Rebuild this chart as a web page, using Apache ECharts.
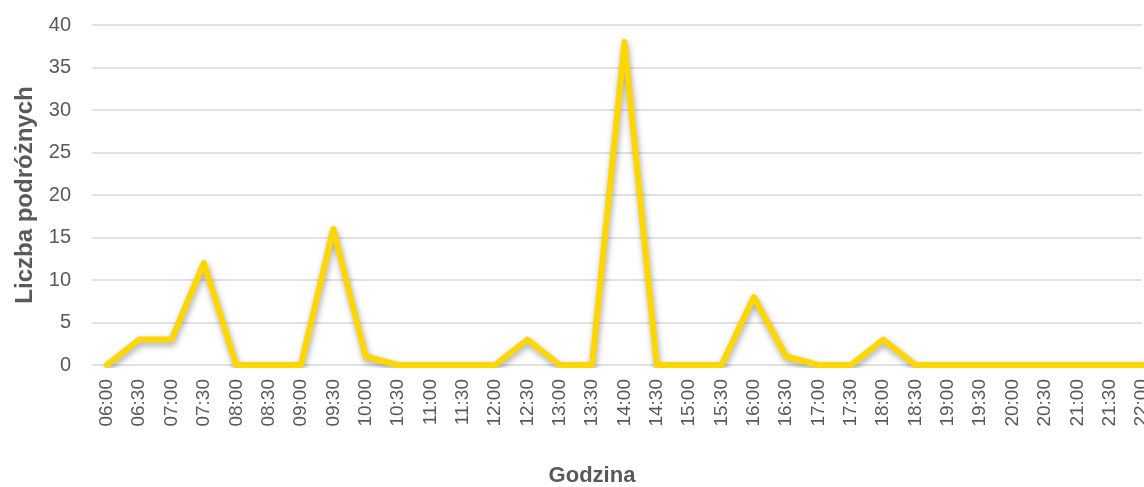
<!DOCTYPE html>
<html><head><meta charset="utf-8">
<script src="https://cdn.jsdelivr.net/npm/echarts@6/dist/echarts.min.js"></script>
<style>html,body{margin:0;padding:0;background:#fff}#c{width:1144px;height:487px}</style>
</head><body><div id="c"></div>
<script>
const times = ['06:00','06:30','07:00','07:30','08:00','08:30','09:00','09:30','10:00','10:30','11:00','11:30','12:00','12:30','13:00','13:30','14:00','14:30','15:00','15:30','16:00','16:30','17:00','17:30','18:00','18:30','19:00','19:30','20:00','20:30','21:00','21:30','22:00'];
const travellers = [0,3,3,12,0,0,0,16,1,0,0,0,0,3,0,0,38,0,0,0,8,1,0,0,3,0,0,0,0,0,0,0,0];
const yTicks = [0,5,10,15,20,25,30,35,40];
const FONT = '"Liberation Sans",Arial,sans-serif';
const chart = echarts.init(document.getElementById('c'));
chart.setOption({
  animation:false,
  grid:{left:92,right:2,top:25,bottom:122,containLabel:false,outerBoundsMode:'none'},
  xAxis:{type:'value',min:-0.46,max:times.length-1,
    name:'Godzina',nameLocation:'middle',nameGap:100,
    nameTextStyle:{fontFamily:FONT,fontSize:22,fontWeight:'bold',color:'#595959',padding:[0,50,0,0]},
    axisLine:{show:false},axisTick:{show:false},splitLine:{show:false},
    axisLabel:{customValues:times.map((t,i)=>i),formatter:v=>times[Math.round(v)],rotate:90,
      fontFamily:FONT,fontSize:19,color:'#595959',margin:14}},
  yAxis:{type:'value',min:0,max:40,interval:5,
    name:'Liczba podróżnych',nameLocation:'middle',nameGap:54,
    nameTextStyle:{fontFamily:FONT,fontSize:24,fontWeight:'bold',color:'#595959'},
    axisLine:{show:false},axisTick:{show:false},
    splitLine:{lineStyle:{color:'#D9D9D9',width:1.5}},
    axisLabel:{fontFamily:FONT,fontSize:20,color:'#595959',margin:21,
      formatter:v=>yTicks.includes(v)?String(v):''}},
  series:[{type:'line',data:travellers.map((v,i)=>[i,v]),symbol:'none',
    lineStyle:{color:'#FFD700',width:6,cap:'round',join:'round',
      shadowColor:'rgba(0,0,0,0.35)',shadowBlur:6,shadowOffsetX:1,shadowOffsetY:3}}]
});
</script></body></html>
